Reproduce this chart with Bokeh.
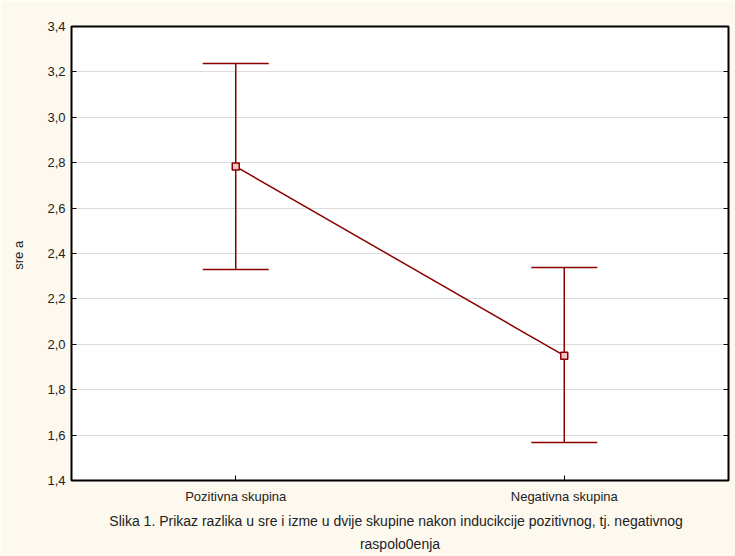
from bokeh.plotting import figure
from bokeh.models import (Range1d, FixedTicker, ColumnDataSource, Whisker, TeeHead,
                          LinearAxis, Title)
from bokeh.embed import file_html
from bokeh.resources import INLINE

categories = ["Pozitivna skupina", "Negativna skupina"]
means = [2.783, 1.95]
upper = [3.237, 2.338]
lower = [2.33, 1.567]
y_ticks = [1.4, 1.6, 1.8, 2.0, 2.2, 2.4, 2.6, 2.8, 3.0, 3.2, 3.4]
y_tick_labels = ["1,4", "1,6", "1,8", "2,0", "2,2", "2,4", "2,6", "2,8", "3,0", "3,2", "3,4"]
y_label = "sre  a"
caption_1 = "Slika 1. Prikaz razlika u sre  i izme  u dvije skupine nakon inducikcije pozitivnog, tj. negativnog"
caption_2 = "raspolo0enja"

xs = list(range(len(categories)))
src = ColumnDataSource(dict(x=xs, m=means, up=upper, lo=lower))

RED = "#8b0000"
FONT = "Liberation Sans"

p = figure(width=735, height=556, output_backend="svg", toolbar_location=None,
           x_range=Range1d(-0.5, 1.5), y_range=Range1d(1.4, 3.4),
           min_border_left=71, min_border_right=7, min_border_top=26, min_border_bottom=76)

p.border_fill_color = "#fdf9ef"
p.background_fill_color = "white"
p.outline_line_color = "black"
p.outline_line_width = 2

# axes
p.xaxis.ticker = FixedTicker(ticks=xs)
p.xaxis.major_label_overrides = {x: c for x, c in zip(xs, categories)}
p.yaxis.ticker = FixedTicker(ticks=y_ticks)
p.yaxis.major_label_overrides = {t: l for t, l in zip(y_ticks, y_tick_labels)}
for ax in (p.xaxis[0], p.yaxis[0]):
    ax.axis_line_color = None
    ax.major_tick_in = 5
    ax.major_tick_out = 0
    ax.major_tick_line_color = "black"
    ax.major_tick_line_width = 1
    ax.minor_tick_line_color = None
    ax.major_label_text_font = FONT
    ax.major_label_text_font_size = "13px"
    ax.major_label_text_color = "#222222"
p.xaxis.major_label_standoff = 8
p.yaxis.major_label_standoff = 6
p.yaxis.axis_label = y_label
p.yaxis.axis_label_text_font = FONT
p.yaxis.axis_label_text_font_size = "13px"
p.yaxis.axis_label_text_font_style = "normal"
p.yaxis.axis_label_text_color = "#222222"
p.yaxis.axis_label_standoff = 18

ra = LinearAxis(ticker=FixedTicker(ticks=y_ticks), major_label_text_font_size="0px",
                axis_line_color=None, major_tick_in=5, major_tick_out=0,
                minor_tick_line_color=None, major_label_standoff=0)
p.add_layout(ra, "right")

p.xgrid.grid_line_color = None
p.ygrid.grid_line_color = "#dcdcdc"
p.ygrid.grid_line_width = 1

# data
w = Whisker(source=src, base="x", upper="up", lower="lo", dimension="height",
            line_color=RED, line_width=1.5,
            upper_head=TeeHead(size=66, line_color=RED, line_width=1.5),
            lower_head=TeeHead(size=66, line_color=RED, line_width=1.5))
p.add_layout(w)
p.line("x", "m", source=src, line_color=RED, line_width=1.5)
p.scatter("x", "m", source=src, marker="square", size=7, line_color=RED,
          line_width=1.5, fill_color="#f2c4c4")

t1 = Title(text=caption_1, align="center", text_font=FONT, text_font_size="14px",
           text_font_style="normal", text_color="#222222", offset=20, standoff=9)
t2 = Title(text=caption_2, align="center", text_font=FONT, text_font_size="14px",
           text_font_style="normal", text_color="#222222", offset=10, standoff=0)
p.add_layout(t1, "below")
p.add_layout(t2, "below")

open("out.html", "w").write(file_html(p, INLINE))
